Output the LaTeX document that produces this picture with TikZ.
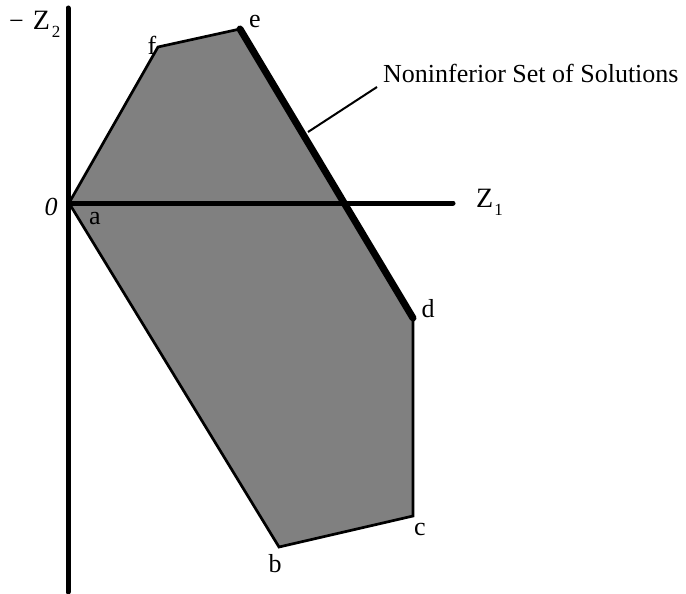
\documentclass[tikz,border=0pt]{standalone}
\usepackage{fontspec}
\setmainfont{Liberation Serif}
\newcommand{\subdig}[1]{\raisebox{-8pt}{\fontsize{17}{20}\selectfont #1}}
\newcommand{\bigZ}{{\fontsize{28}{32}\selectfont Z}}
\begin{document}
\begin{tikzpicture}[x=1pt,y=-1pt,
  lbl/.style={font=\fontsize{26}{30}\selectfont, inner sep=0pt, anchor=base},
  axis/.style={line width=5pt, line cap=round},
  region/.style={fill=black!50, draw=black, line width=2.7pt, line join=miter},
  front/.style={line width=7pt, line cap=round},
  leader/.style={line width=2pt}]
\useasboundingbox (0,0) rectangle (686,594);
\coordinate (a) at (69,203);
\coordinate (b) at (279,547);
\coordinate (c) at (413,516);
\coordinate (d) at (413,318);
\coordinate (e) at (240,29);
\coordinate (f) at (158,47);
\filldraw[region] (a) -- (b) -- (c) -- (d) -- (e) -- (f) -- cycle;
\coordinate (vtop) at (68,8);
\coordinate (vbot) at (68,592);
\coordinate (hend) at (453,203);
\draw[axis] (vtop) -- (vbot);
\draw[axis] (a) -- (hend);
\draw[front] (e) -- (d);
\coordinate (lstart) at (377,87);
\coordinate (lend) at (308,132);
\draw[leader] (lstart) -- (lend);
\node[lbl, anchor=base west] (nis) at (383,82) {Noninferior Set of Solutions};
\node[lbl, anchor=base west] (z2) at (9,30) {−\hspace{9pt}\bigZ\hspace{2pt}\subdig{2}};
\node[lbl, anchor=base west] (z1) at (476,207) {\bigZ\hspace{1pt}\subdig{1}};
\node[lbl] (o) at (51,215) {\textit{0}};
\node[lbl] (la) at (95,224) {a};
\node[lbl] (lb) at (275,572) {b};
\node[lbl] (lc) at (420,535) {c};
\node[lbl] (ld) at (428,317) {d};
\node[lbl] (le) at (255,28) {e};
\node[lbl] (lf) at (152,55) {f};
\end{tikzpicture}
\end{document}
